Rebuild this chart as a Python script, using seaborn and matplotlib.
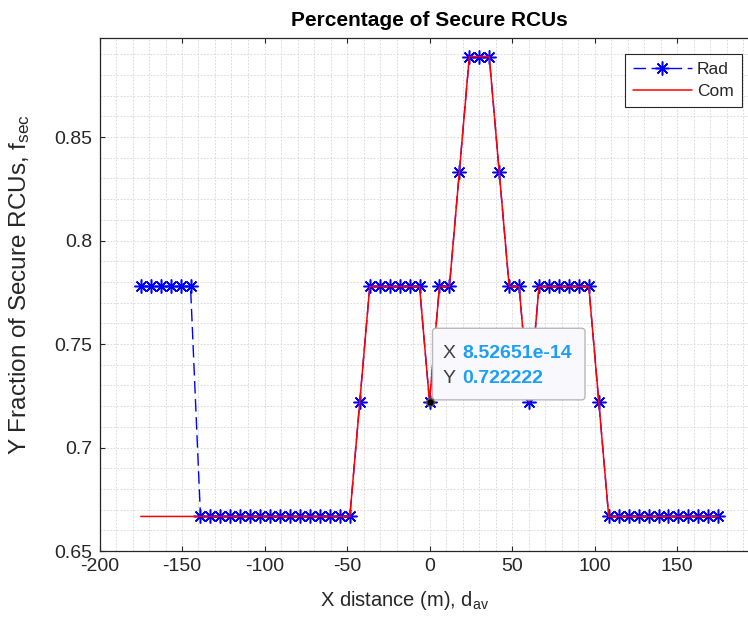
import numpy as np
import pandas as pd
import matplotlib
matplotlib.use("Agg")
import matplotlib.pyplot as plt
import seaborn as sns
from matplotlib.patches import FancyBboxPatch
from matplotlib.transforms import ScaledTranslation
from matplotlib.ticker import MultipleLocator

# ---------------- data ----------------
distance = [-175.00, -168.97, -162.93, -156.90, -150.86, -144.83, -138.79, -132.76,
            -126.72, -120.69, -114.66, -108.62, -102.59, -96.55, -90.52, -84.48,
            -78.45, -72.41, -66.38, -60.34, -54.31, -48.28, -42.24, -36.21,
            -30.17, -24.14, -18.10, -12.07, -6.03, 0.00, 6.03, 12.07,
            18.10, 24.14, 30.17, 36.21, 42.24, 48.28, 54.31, 60.34,
            66.38, 72.41, 78.45, 84.48, 90.52, 96.55, 102.59, 108.62,
            114.66, 120.69, 126.72, 132.76, 138.79, 144.83, 150.86, 156.90,
            162.93, 168.97, 175.00]

rad = [0.7778, 0.7778, 0.7778, 0.7778, 0.7778, 0.7778,
       0.6667, 0.6667, 0.6667, 0.6667, 0.6667, 0.6667, 0.6667, 0.6667,
       0.6667, 0.6667, 0.6667, 0.6667, 0.6667, 0.6667, 0.6667, 0.6667,
       0.7222,
       0.7778, 0.7778, 0.7778, 0.7778, 0.7778, 0.7778,
       0.7222,
       0.7778, 0.7778,
       0.8333,
       0.8889, 0.8889, 0.8889,
       0.8333,
       0.7778, 0.7778,
       0.7222,
       0.7778, 0.7778, 0.7778, 0.7778, 0.7778, 0.7778,
       0.7222,
       0.6667, 0.6667, 0.6667, 0.6667, 0.6667, 0.6667, 0.6667, 0.6667,
       0.6667, 0.6667, 0.6667, 0.6667]

com = [0.6667, 0.6667, 0.6667, 0.6667, 0.6667, 0.6667,
       0.6667, 0.6667, 0.6667, 0.6667, 0.6667, 0.6667, 0.6667, 0.6667,
       0.6667, 0.6667, 0.6667, 0.6667, 0.6667, 0.6667, 0.6667, 0.6667,
       0.7222,
       0.7778, 0.7778, 0.7778, 0.7778, 0.7778, 0.7778,
       0.7222,
       0.7778, 0.7778,
       0.8333,
       0.8889, 0.8889, 0.8889,
       0.8333,
       0.7778, 0.7778,
       0.7222,
       0.7778, 0.7778, 0.7778, 0.7778, 0.7778, 0.7778,
       0.7222,
       0.6667, 0.6667, 0.6667, 0.6667, 0.6667, 0.6667, 0.6667, 0.6667,
       0.6667, 0.6667, 0.6667, 0.6667]

x_ticks = [-200, -150, -100, -50, 0, 50, 100, 150]
x_tick_labels = ["-200", "-150", "-100", "-50", "0", "50", "100", "150"]
y_ticks = [0.65, 0.70, 0.75, 0.80, 0.85]
y_tick_labels = ["0.65", "0.7", "0.75", "0.8", "0.85"]
x_limits = [-200, 200]
y_limits = [0.65, 0.8977]

tip_index = 29
tip_x_label = "8.52651e-14"
tip_y_label = "0.722222"

title_text = "Percentage of Secure RCUs"
xlabel_text = "X distance (m), d$_{av}$"
ylabel_text = "Y Fraction of Secure RCUs, f$_{sec}$"

# ---------------- style ----------------
sns.set_theme(style="white")
plt.rcParams["font.family"] = ["Liberation Sans", "DejaVu Sans"]
plt.rcParams["mathtext.default"] = "regular"
plt.rcParams["axes.unicode_minus"] = False

W, H = 748, 628
fig = plt.figure(figsize=(W / 100, H / 100), dpi=100)
fig.patch.set_facecolor("white")

ax_left, ax_right, ax_top, ax_bottom = 99.5, 759.5, 38.3, 551.0
ax = fig.add_axes([ax_left / W, (H - ax_bottom) / H,
                   (ax_right - ax_left) / W, (ax_bottom - ax_top) / H])
ax.set_facecolor("white")

df = pd.DataFrame({"distance": distance, "Rad": rad, "Com": com})

ink = "#262626"
blue = "#0000ff"
red = "#ff0000"

sns.lineplot(data=df, x="distance", y="Rad", ax=ax, sort=False, estimator=None,
             color=blue, linestyle=(0, (9, 4)), linewidth=1.0,
             marker=(8, 2, 0), markersize=10, markeredgewidth=1.1,
             markeredgecolor=blue, markerfacecolor=blue, zorder=3)
sns.lineplot(data=df, x="distance", y="Com", ax=ax, sort=False, estimator=None,
             color=red, linewidth=1.1, zorder=4)

ax.set_xlim(*x_limits)
ax.set_ylim(*y_limits)
ax.set_xticks(x_ticks)
ax.set_xticklabels(x_tick_labels)
ax.set_yticks(y_ticks)
ax.set_yticklabels(y_tick_labels)
ax.xaxis.set_minor_locator(MultipleLocator(10))
ax.yaxis.set_minor_locator(MultipleLocator(0.01))

ax.grid(True, which="both", color="#d4d4d4", linestyle=(0, (2, 2)), linewidth=0.6)
ax.set_axisbelow(True)

ax.tick_params(which="major", direction="in", length=3.6, width=0.8,
               top=True, right=True, bottom=True, left=True,
               labelsize=14, color=ink, labelcolor=ink, pad=5)
ax.tick_params(which="minor", length=0)
for s in ax.spines.values():
    s.set_color(ink)
    s.set_linewidth(0.9)

ax.set_title(title_text, fontsize=15, fontweight="bold", color="black", pad=9)
ax.set_xlabel(xlabel_text, fontsize=14.5, color=ink)
ax.set_ylabel(ylabel_text, fontsize=17.5, color=ink)
ax.xaxis.set_label_coords((405 - ax_left) / (ax_right - ax_left), -0.074)
ax.yaxis.set_label_coords(-0.102, 0.52)

# legend
rad_line = ax.lines[0]
com_line = ax.lines[1]
leg = ax.legend([rad_line, com_line], ["Rad", "Com"], loc="upper left",
                bbox_to_anchor=(625 / W, 1 - 54 / H), bbox_transform=fig.transFigure,
                borderaxespad=0, fontsize=12.5, handlelength=3.4, handletextpad=0.3,
                borderpad=0.45, labelspacing=0.42, fancybox=False, framealpha=1,
                edgecolor=ink, numpoints=1)
leg.get_frame().set_linewidth(0.8)
for t in leg.get_texts():
    t.set_color(ink)

# datatip
tx, ty = distance[tip_index], com[tip_index]
anchor = fig.dpi_scale_trans + ScaledTranslation(tx, ty, ax.transData)
box = FancyBboxPatch((3 / 100, 1.7 / 100), 152.5 / 100, 71.6 / 100,
                     boxstyle="round,pad=0,rounding_size=0.035",
                     transform=anchor, facecolor="#f9f9fd", edgecolor="#b8b8b8",
                     linewidth=1.0, zorder=20, clip_on=False)
ax.add_patch(box)
ax.plot([tx], [ty], marker="o", markersize=5.5, color="black",
        markeredgecolor="#555555", zorder=21, clip_on=False)
tip_blue = "#1e9ff2"
for label, value, dy in [("X", tip_x_label, 48.3), ("Y", tip_y_label, 22.7)]:
    ax.annotate(label, xy=(tx, ty), xycoords="data", xytext=(13, dy),
                textcoords="offset pixels", ha="left", va="center",
                fontsize=14, color="#404040", zorder=22)
    ax.annotate(value, xy=(tx, ty), xycoords="data", xytext=(33, dy),
                textcoords="offset pixels", ha="left", va="center",
                fontsize=14, color=tip_blue, fontweight="bold", zorder=22)

fig.savefig("out.png", dpi=100, facecolor="white")
